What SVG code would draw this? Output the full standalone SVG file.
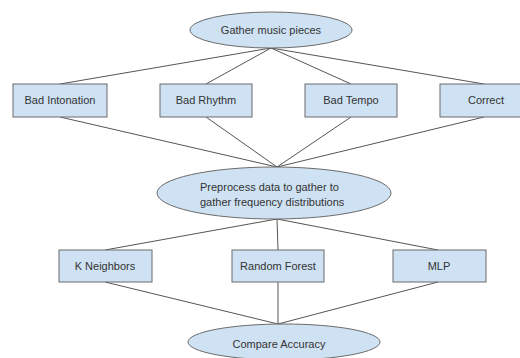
<svg xmlns="http://www.w3.org/2000/svg" width="520" height="358" viewBox="0 0 520 358">
<style>
.n{fill:#cfe2f3;stroke:#6b6b6b;stroke-width:1}
.t{font-family:"Liberation Sans",Arial,sans-serif;font-size:11px;fill:#333;text-anchor:middle}
.c line{stroke:#555;stroke-width:1}
</style>
<rect width="520" height="358" fill="#fff"/>
<g class="c" id="connectors">
<line x1="271" y1="48" x2="60" y2="84"/>
<line x1="271" y1="48" x2="206" y2="84"/>
<line x1="271" y1="48" x2="351" y2="84"/>
<line x1="271" y1="48" x2="484" y2="84"/>
<line x1="60" y1="117" x2="277" y2="167"/>
<line x1="206" y1="117" x2="277" y2="167"/>
<line x1="351" y1="117" x2="277" y2="167"/>
<line x1="484" y1="117" x2="277" y2="167"/>
<line x1="277" y1="219" x2="105" y2="250"/>
<line x1="277" y1="219" x2="278" y2="250"/>
<line x1="277" y1="219" x2="438" y2="250"/>
<line x1="105" y1="282" x2="278" y2="324"/>
<line x1="278" y1="282" x2="278" y2="324"/>
<line x1="438" y1="282" x2="278" y2="324"/>
</g>
<g id="gather"><ellipse class="n" cx="271" cy="30" rx="81" ry="18"/><text class="t" x="271" y="34">Gather music pieces</text></g>
<g id="intonation"><rect class="n" x="13" y="84" width="94" height="33"/><text class="t" x="60" y="104">Bad Intonation</text></g>
<g id="rhythm"><rect class="n" x="160" y="84" width="92" height="33"/><text class="t" x="206" y="104">Bad Rhythm</text></g>
<g id="tempo"><rect class="n" x="305" y="84" width="92" height="33"/><text class="t" x="351" y="104">Bad Tempo</text></g>
<g id="correct"><rect class="n" x="440" y="84" width="92" height="33"/><text class="t" x="486" y="104">Correct</text></g>
<g id="preprocess"><ellipse class="n" cx="274" cy="193" rx="117" ry="26"/><text class="t" x="200" y="191" style="text-anchor:start">Preprocess data to gather to</text><text class="t" x="200" y="206" style="text-anchor:start">gather frequency distributions</text></g>
<g id="kneighbors"><rect class="n" x="59" y="250" width="93" height="32"/><text class="t" x="105" y="270">K Neighbors</text></g>
<g id="forest"><rect class="n" x="232" y="250" width="92" height="32"/><text class="t" x="278" y="270">Random Forest</text></g>
<g id="mlp"><rect class="n" x="393" y="250" width="93" height="32"/><text class="t" x="439" y="270">MLP</text></g>
<g id="compare"><ellipse class="n" cx="284" cy="342" rx="96" ry="18"/><text class="t" x="279" y="348">Compare Accuracy</text></g>
</svg>
